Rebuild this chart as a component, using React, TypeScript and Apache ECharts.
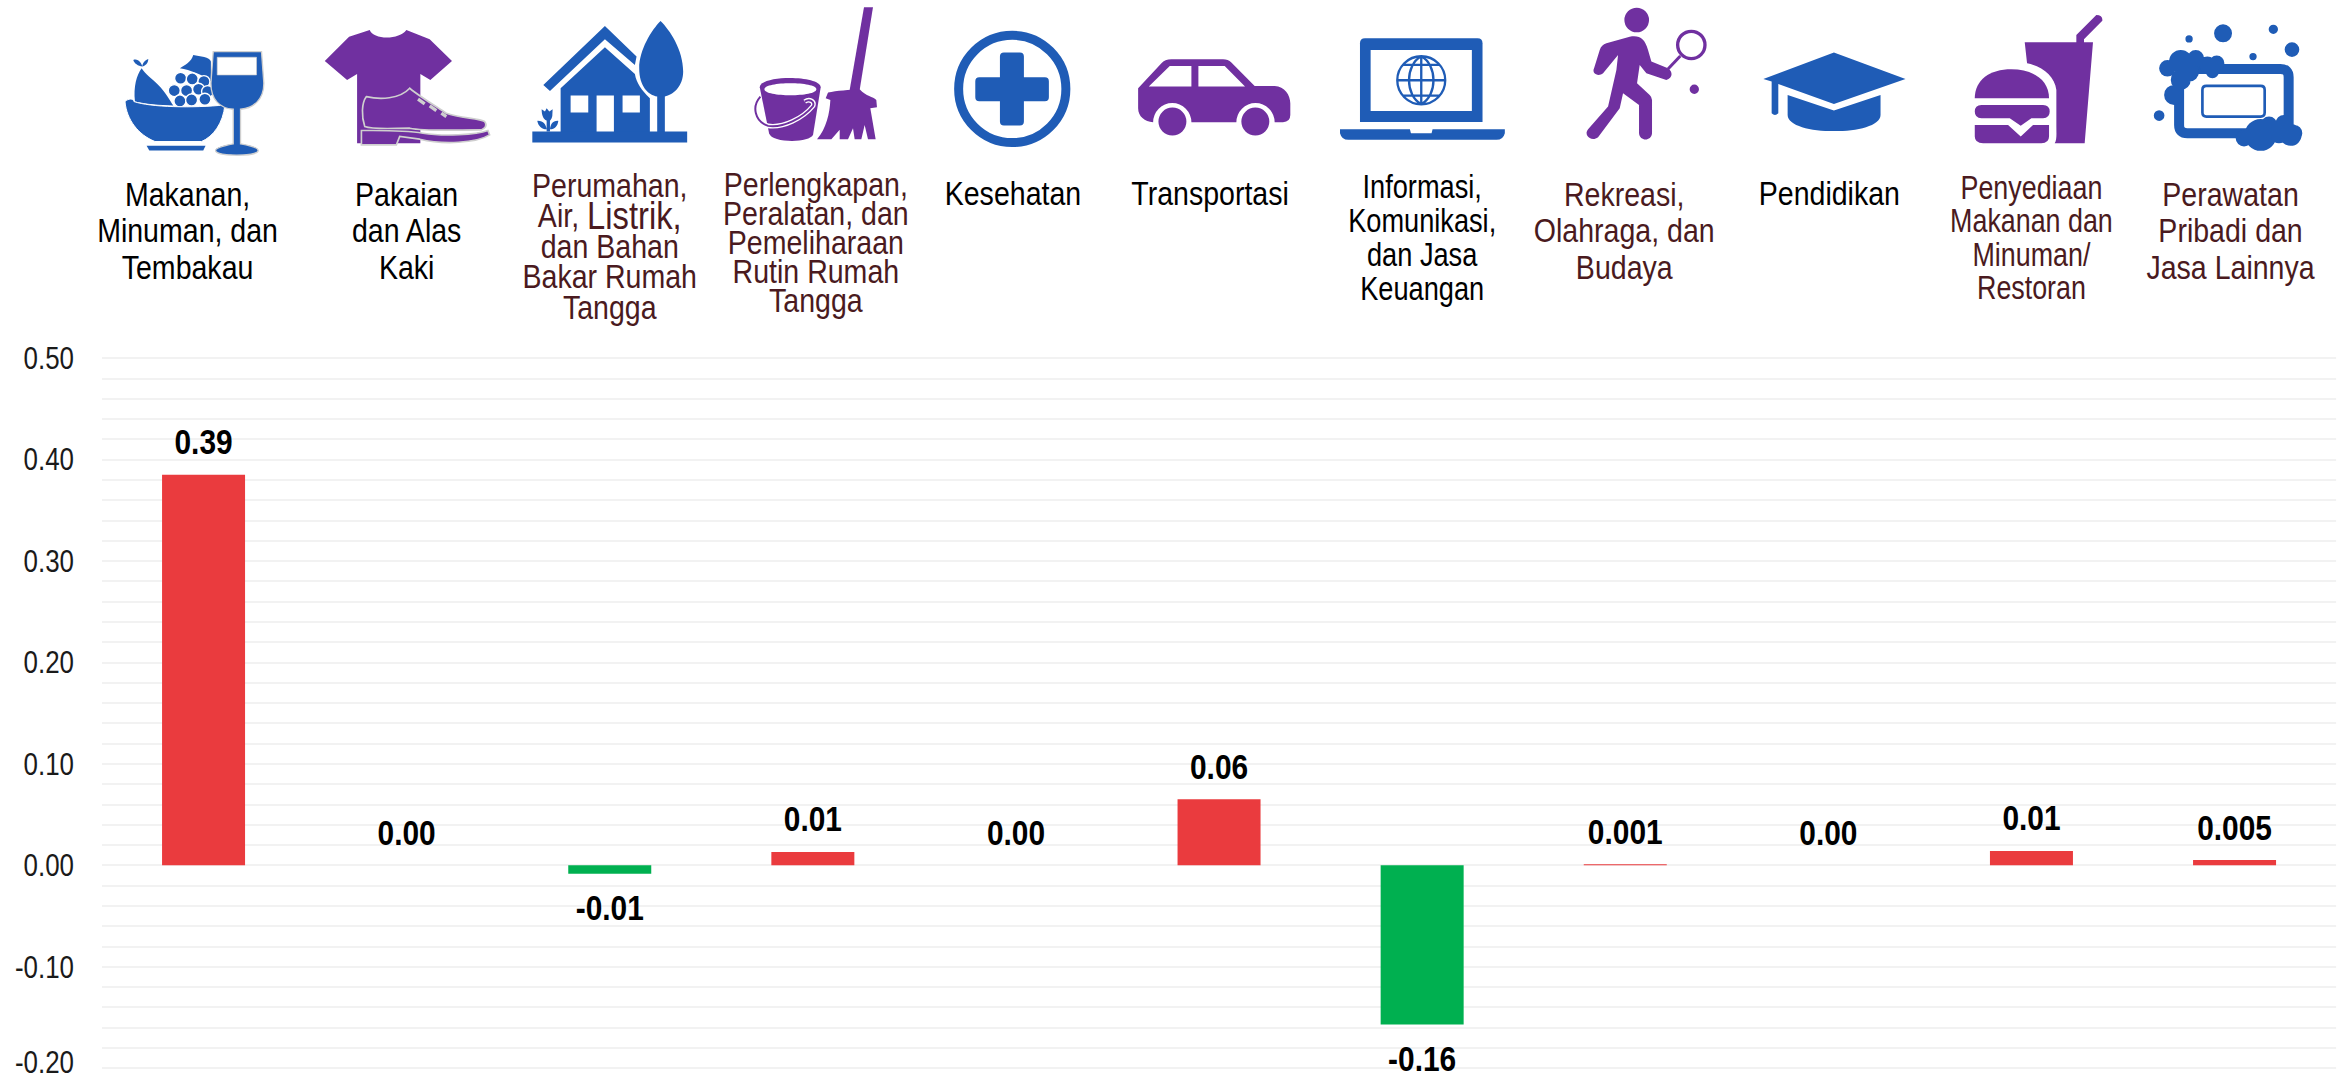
import React, { useEffect, useRef } from "react";
import * as echarts from "echarts";

const categories = [
  "Makanan,\nMinuman, dan\nTembakau",
  "Pakaian\ndan Alas\nKaki",
  "Perumahan,\nAir, {b|Listrik,}\ndan Bahan\nBakar Rumah\nTangga",
  "Perlengkapan,\nPeralatan, dan\nPemeliharaan\nRutin Rumah\nTangga",
  "Kesehatan",
  "Transportasi",
  "Informasi,\nKomunikasi,\ndan Jasa\nKeuangan",
  "Rekreasi,\nOlahraga, dan\nBudaya",
  "Pendidikan",
  "Penyediaan\nMakanan dan\nMinuman/\nRestoran",
  "Perawatan\nPribadi dan\nJasa Lainnya",
];
const values = [0.385, 0, -0.0085, 0.013, 0, 0.065, -0.157, 0.001, 0, 0.014, 0.005];
const valueLabels = ["0.39", "0.00", "-0.01", "0.01", "0.00", "0.06", "-0.16", "0.001", "0.00", "0.01", "0.005"];
const yTicks = [0.5, 0.4, 0.3, 0.2, 0.1, 0, -0.1, -0.2];

const FONT = '"Liberation Sans", Arial, sans-serif';
const BLUE = "#1F5CB6";
const PURPLE = "#7030A0";
const MAROON = "#4A1A20";
const RED = "#EA3B3E";
const GREEN = "#00B050";
const GRID_L = 102;
const BAND = 203.1;

const textLayout = [
  { dx: -16, top: 176, lh: 36.5, sx: 0.84, color: "#000" },
  { dx: 0, top: 176, lh: 36.5, sx: 0.84, color: "#000" },
  { dx: 0, top: 170, lh: 30.5, sx: 0.84, color: MAROON },
  { dx: 3, top: 170, lh: 29, sx: 0.84, color: MAROON },
  { dx: -3, top: 176, lh: 36, sx: 0.84, color: "#000" },
  { dx: -9, top: 176, lh: 36, sx: 0.84, color: "#000" },
  { dx: 0, top: 170, lh: 33.7, sx: 0.8, color: "#000" },
  { dx: -1, top: 176, lh: 36.5, sx: 0.84, color: MAROON },
  { dx: 1, top: 176, lh: 36, sx: 0.84, color: "#000" },
  { dx: 0, top: 170, lh: 33.5, sx: 0.79, color: MAROON },
  { dx: -4, top: 176, lh: 36.5, sx: 0.84, color: MAROON },
];

const c = (x: number, y: number, r: number) =>
  `M${x - r} ${y}A${r} ${r} 0 1 1 ${x + r} ${y}A${r} ${r} 0 1 1 ${x - r} ${y}Z`;
const rr = (x0: number, y0: number, x1: number, y1: number, r: number) =>
  `M${x0 + r} ${y0}L${x1 - r} ${y0}Q${x1} ${y0} ${x1} ${y0 + r}L${x1} ${y1 - r}Q${x1} ${y1} ${x1 - r} ${y1}L${x0 + r} ${y1}Q${x0} ${y1} ${x0} ${y1 - r}L${x0} ${y0 + r}Q${x0} ${y0} ${x0 + r} ${y0}Z`;

type Part = { d: string; fill?: string; stroke?: string; lw?: number };
const GRAY = "#CFCFCF";
const WHITE = "#FFFFFF";
const icons: { ox: number; parts: Part[] }[] = [
  {
    ox: 110,
    parts: [
      { d: "M75 305C70 260 80 225 95 205C105 222 125 235 145 255C165 275 180 300 190 317C150 316 105 312 75 305Z", fill: BLUE },
      { d: "M70 180C85 175 95 190 97 200C85 198 72 190 70 180ZM115 177C115 190 105 198 97 200C97 190 105 180 115 177Z", fill: BLUE },
      { d: "M210 205C225 195 245 185 250 165C270 170 300 170 303 185L303 245C280 225 240 210 210 205Z", fill: BLUE },
      ...[[212, 235], [247, 237], [282, 245], [193, 272], [230, 272], [266, 268], [293, 275], [210, 303], [245, 300], [285, 298]].map(
        ([x, y]) => ({ d: c(x, y, 18), fill: BLUE, stroke: WHITE, lw: 4 })
      ),
      { d: "M45 305C55 295 70 295 72 305C120 322 250 325 345 315C340 370 310 410 275 425L135 425C85 405 50 360 45 305Z", fill: BLUE, stroke: WHITE, lw: 3 },
      { d: "M110 438L287 438L280 452L118 452Z", fill: BLUE },
      { d: "M310 155L455 155L462 250C462 300 430 325 392 328L392 432C420 437 445 443 445 452C445 462 410 466 380 466C350 466 317 462 317 452C317 443 345 437 370 432L370 328C330 325 303 300 303 250Z", fill: BLUE, stroke: GRAY, lw: 4 },
      { d: "M322 172L440 172L440 225L322 225Z", fill: WHITE, stroke: GRAY, lw: 2 },
    ],
  },
  {
    ox: 110,
    parts: [
      { d: "M718 110L780 90C790 120 870 120 890 90L960 118L1027 183L962 240L932 222L932 430L742 430L742 222L712 240L645 183Z", fill: PURPLE },
      { d: "M770 290C810 300 870 298 900 265C930 290 980 320 1010 340C1050 355 1110 355 1125 365C1135 378 1125 385 1115 390C1040 390 950 395 900 385C850 385 790 390 765 380C755 350 755 310 770 290Z", fill: PURPLE, stroke: GRAY, lw: 5 },
      { d: "M755 392C800 392 880 390 940 400C1000 410 1100 405 1135 392L1140 405C1100 430 1000 435 930 418L870 410L860 435L755 435Z", fill: PURPLE, stroke: GRAY, lw: 5 },
      { d: "M925 298L945 312M960 318L980 332M995 340L1010 350", fill: "none", stroke: GRAY, lw: 10 },
    ],
  },
  {
    ox: 520,
    parts: [
      { d: "M255 78L350 170L345 195L255 118L90 273L70 255Z", fill: BLUE },
      { d: "M122 265L255 142L345 222C350 250 365 270 390 295L390 398L122 398Z", fill: BLUE },
      { d: "M152 287L205 287L205 338L152 338ZM308 287L360 287L360 338L308 338ZM230 287L282 287L282 398L230 398Z", fill: WHITE },
      { d: "M422 63C450 90 490 150 490 215C490 260 460 285 435 290L435 398L412 398L412 290C385 285 358 260 358 205C358 150 395 90 422 63Z", fill: BLUE },
      { d: "M37 395L502 395L502 428L37 428Z", fill: BLUE },
      { d: "M65 328L75 335L80 325L88 335L98 328L97 348C95 358 90 362 90 362L90 395L80 395L80 362C70 358 65 345 65 328ZM52 363C70 362 78 375 80 388C65 388 55 378 52 363ZM115 363C97 362 92 375 90 388C105 388 113 378 115 363Z", fill: BLUE },
    ],
  },
  {
    ox: 520,
    parts: [
      { d: "M720 262C720 225 900 225 903 262L880 405C870 430 755 430 748 400Z", fill: PURPLE },
      { d: "M734 268C734 244 890 244 890 268C890 292 734 292 734 268Z", fill: WHITE },
      { d: "M722 290C695 320 705 365 745 378C790 385 850 355 880 318C885 305 870 295 855 305", fill: "none", stroke: WHITE, lw: 14 },
      { d: "M722 290C695 320 705 365 745 378C790 385 850 355 880 318C885 305 870 295 855 305", fill: "none", stroke: PURPLE, lw: 6 },
      { d: "M1033 22L1060 22L1020 270L990 270Z", fill: PURPLE },
      { d: "M925 278C950 272 990 270 1020 268C1040 290 1060 290 1070 300L1072 322L1052 325L1068 418L1045 418L1035 375L1025 418L1005 418L1000 385L985 418L960 418L960 390L935 418L892 418C920 385 930 340 932 300L918 295Z", fill: PURPLE },
    ],
  },
  {
    ox: 930,
    parts: [
      { d: c(247, 267, 161), fill: "none", stroke: BLUE, lw: 27 },
      { d: "M210 170Q210 158 222 158L270 158Q282 158 282 170L282 232L345 232Q357 232 357 244L357 292Q357 304 345 304L282 304L282 365Q282 377 270 377L222 377Q210 377 210 365L210 304L148 304Q136 304 136 292L136 244Q136 232 148 232L210 232Z", fill: BLUE },
    ],
  },
  {
    ox: 930,
    parts: [
      { d: "M625 265L695 190Q705 178 725 178L880 178Q895 178 905 188L975 258L1035 258C1065 260 1082 285 1082 310L1082 345Q1082 365 1060 367L1035 367A57 57 0 0 0 920 367L785 367A57 57 0 0 0 670 367C645 365 625 350 625 325Z", fill: PURPLE },
      { d: "M657 260L720 198L785 198L785 260ZM806 198L885 198L946 260L806 260Z", fill: WHITE },
      { d: c(728, 365, 42) + c(977, 365, 42), fill: PURPLE },
    ],
  },
  {
    ox: 1340,
    parts: [
      { d: "M60 130Q60 115 75 115L413 115Q428 115 428 130L428 366L60 366Z", fill: BLUE },
      { d: "M92 150L396 150L396 333L92 333Z", fill: WHITE },
      { d: c(244, 241, 72) + "M244 169L244 313M172 241L316 241M190 195L298 195M190 287L298 287M244 169C195 195 195 287 244 313C293 287 293 195 244 169", fill: "none", stroke: BLUE, lw: 7 },
      { d: "M0 388L210 388L213 400L275 400L278 388L495 388L495 400Q490 420 470 420L25 420Q5 420 0 400Z", fill: BLUE },
    ],
  },
  {
    ox: 1340,
    parts: [
      { d: c(891, 60, 37) + c(1064, 268, 14), fill: PURPLE },
      { d: "M870 110C900 105 915 115 925 150L935 185L985 205C1000 215 1000 235 980 240L920 220L900 195L892 250L930 285Q937 292 937 300L937 400C935 425 900 425 898 400L898 315L850 280L840 325L775 412C755 428 730 405 745 388L805 320L830 210L835 165L790 220C775 232 755 220 763 205L780 150Q785 135 800 130Z", fill: PURPLE },
      { d: c(1055, 135, 41), fill: "none", stroke: PURPLE, lw: 10 },
      { d: "M1022 168L985 207", fill: "none", stroke: PURPLE, lw: 9 },
    ],
  },
  {
    ox: 1750,
    parts: [
      { d: "M252 158L467 237L252 312L85 252L85 340Q75 350 65 340L65 245L40 237Z", fill: BLUE },
      { d: "M113 285L252 332L392 285L392 345C392 410 113 410 113 345Z", fill: BLUE },
    ],
  },
  {
    ox: 1750,
    parts: [
      { d: "M825 127L980 127L980 105L1040 45Q1060 45 1058 62L1003 118L1003 127L1030 127L1005 430L915 430C922 420 920 400 920 380L920 270C915 230 880 200 832 190Z", fill: PURPLE },
      { d: "M675 295C675 240 720 208 785 208C850 208 898 240 898 295Z", fill: PURPLE },
      { d: "M695 315L880 315Q900 315 900 335Q900 355 880 355L845 355L813 378L780 355L695 355Q675 355 675 335Q675 315 695 315Z", fill: PURPLE },
      { d: "M675 375L775 375L813 410L850 375L898 375L898 410Q898 430 875 430L700 430Q675 430 675 410Z", fill: PURPLE },
    ],
  },
  {
    ox: 1941,
    parts: [
      { d: rr(715, 207, 1044, 400, 25), fill: "none", stroke: BLUE, lw: 30 },
      { d: rr(785, 258, 972, 350, 12), fill: "none", stroke: BLUE, lw: 8 },
      {
        d: [[847, 100, 27], [745, 117, 11], [998, 88, 14], [1054, 149, 22], [937, 170, 11], [655, 347, 16],
          [720, 185, 35], [680, 205, 25], [765, 175, 25], [800, 195, 25], [828, 190, 23], [815, 215, 20], [720, 240, 30], [700, 285, 30], [745, 215, 30],
          [960, 405, 48], [1015, 395, 35], [1050, 405, 33], [910, 415, 25], [1030, 370, 25], [985, 375, 25], [1060, 400, 25]]
          .map(([x, y, r]) => c(x, y, r)).join(""),
        fill: BLUE,
      },
    ],
  },
];

export default function App() {
  const ref = useRef<HTMLDivElement>(null);
  useEffect(() => {
    document.body.style.margin = "0";
    const chart = echarts.init(ref.current!, null, { renderer: "svg" });
    const iconEls: any[] = [];
    icons.forEach((icon, i) => {
      icon.parts.forEach((p, j) => {
        const name = `icon_${i}_${j}`;
        echarts.graphic.registerShape(name, echarts.graphic.extendPath(p.d, {}));
        iconEls.push({
          type: name,
          x: icon.ox,
          y: 0,
          scaleX: 1 / 3,
          scaleY: 1 / 3,
          silent: true,
          style: { fill: p.fill ?? "none", stroke: p.stroke ?? "none", lineWidth: p.lw ?? 0 },
        });
      });
    });
    const textEls = categories.map((text, i) => {
      const l = textLayout[i];
      return {
        type: "text",
        x: GRID_L + BAND * (i + 0.5) + l.dx,
        y: l.top,
        scaleX: l.sx,
        silent: true,
        style: {
          text,
          fill: l.color,
          fontSize: 34,
          fontFamily: FONT,
          align: "center",
          verticalAlign: "top",
          lineHeight: l.lh,
          rich: { b: { fontSize: 39, fontFamily: FONT, fill: l.color, lineHeight: l.lh } },
        },
      };
    });
    chart.setOption({
      animation: false,
      backgroundColor: "#fff",
      grid: { left: GRID_L, top: 358, width: BAND * 11, height: 710, containLabel: false },
      xAxis: {
        type: "category",
        data: categories.map((s) => s.replace("{b|", "").replace("}", "")),
        axisLine: { show: false },
        axisTick: { show: false },
        axisLabel: { show: false },
        splitLine: { show: false },
      },
      yAxis: {
        type: "value",
        min: -0.2,
        max: 0.5,
        interval: 0.1,
        axisLine: { show: false },
        axisTick: { show: false },
        minorTick: { show: false, splitNumber: 5 },
        axisLabel: { show: false },
        splitLine: { show: true, lineStyle: { color: "#F2F2F2", width: 2 } },
        minorSplitLine: { show: true, lineStyle: { color: "#F2F2F2", width: 2 } },
      },
      series: [
        {
          type: "bar",
          barWidth: 83,
          data: values.map((v) => ({ value: v, itemStyle: { color: v < 0 ? GREEN : RED } })),
        },
        {
          type: "custom",
          silent: true,
          clip: false,
          data: values.map((v, i) => [i, v]),
          encode: { x: 0, y: 1 },
          renderItem: (params: any, api: any) => {
            const v = api.value(1);
            const p = api.coord([api.value(0), v]);
            return {
              type: "text",
              x: p[0],
              y: v < 0 ? p[1] + 34 : p[1] - 33,
              scaleX: 0.83,
              style: {
                text: valueLabels[params.dataIndex],
                fill: "#000",
                fontSize: 36,
                fontWeight: "bold",
                fontFamily: FONT,
                align: "center",
                verticalAlign: "middle",
              },
            };
          },
        },
        {
          type: "custom",
          silent: true,
          clip: false,
          data: yTicks.map((t) => [0, t]),
          encode: { x: 0, y: 1 },
          renderItem: (_params: any, api: any) => {
            const t = api.value(1);
            const p = api.coord([0, t]);
            return {
              type: "text",
              x: GRID_L - 28,
              y: Math.min(p[1], 1062),
              scaleX: 0.81,
              style: {
                text: t.toFixed(2),
                fill: "#1a1a1a",
                fontSize: 32,
                fontFamily: FONT,
                align: "right",
                verticalAlign: "middle",
              },
            };
          },
        },
      ],
      graphic: { elements: [...iconEls, ...textEls] },
    });
    return () => chart.dispose();
  }, []);
  return <div ref={ref} style={{ position: "absolute", left: 0, top: 0, width: 2341, height: 1081 }} />;
}
